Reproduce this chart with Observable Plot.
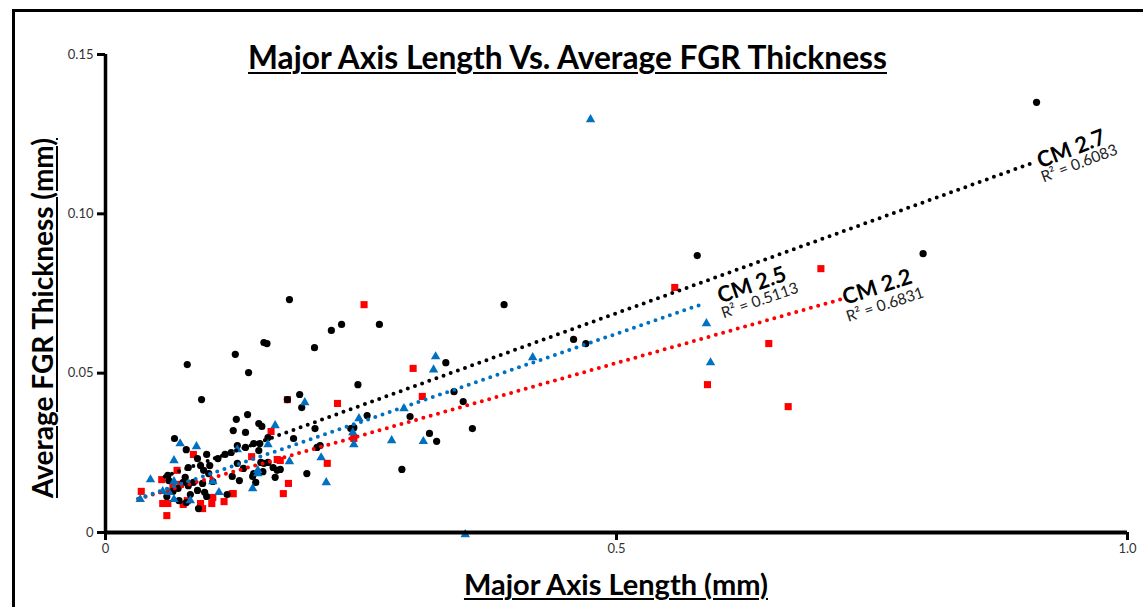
<!DOCTYPE html>
<html>
<head>
<meta charset="utf-8">
<script src="https://cdn.jsdelivr.net/npm/d3@7"></script>
<script src="https://cdn.jsdelivr.net/npm/@observablehq/plot@0.6"></script>
<style>
  html, body { margin: 0; padding: 0; background: #fff; }
  #wrap { position: relative; width: 1143px; height: 607px; overflow: hidden; background: #fff; }
  #frame { position: absolute; left: 12px; top: 9px; width: 1200px; height: 700px; border: 3px solid #000; box-sizing: border-box; }
  #chart { position: absolute; left: 0; top: 0; }
  .ttl { position: absolute; font-family: Lato, "Open Sans", sans-serif; font-weight: 700; line-height: 1; white-space: nowrap; text-decoration: underline; text-decoration-thickness: 2px; text-underline-offset: 3px; color: #000; }
</style>
</head>
<body>
<div id="wrap">
  <div id="frame"></div>
  <div id="chart"></div>
  <div class="ttl" id="title" style="left:0;width:1135px;text-align:center;top:42px;font-size:31.7px;">Major Axis Length Vs. Average FGR Thickness</div>
  <div class="ttl" id="xlabel" style="left:0;width:1232px;text-align:center;top:569px;font-size:29px;">Major Axis Length (mm)</div>
  <div class="ttl" id="ylabel" style="left:42px;top:318px;font-size:28px;transform:translate(-50%,-50%) rotate(-90deg);">Average FGR Thickness (mm)</div>
</div>
<script>
// ---- data (major axis length mm, average FGR thickness mm) ----
const cm27 = [
  [0.911,0.135],[0.800,0.0875],[0.579,0.0869],[0.390,0.0715],[0.180,0.0731],[0.458,0.0606],[0.470,0.0593],
  [0.333,0.0533],[0.341,0.0442],[0.350,0.0411],[0.359,0.0326],[0.231,0.0653],[0.268,0.0653],[0.221,0.0634],
  [0.2045,0.058],[0.247,0.0464],[0.190,0.0433],[0.178,0.0417],[0.192,0.0392],[0.256,0.0367],[0.298,0.0364],
  [0.240,0.0326],[0.243,0.0329],[0.317,0.0311],[0.324,0.0286],[0.205,0.0326],[0.184,0.0295],[0.207,0.0267],
  [0.210,0.0273],[0.171,0.0198],[0.197,0.0185],[0.290,0.0198],[0.155,0.0596],[0.158,0.0593],[0.127,0.0559],
  [0.080,0.0527],[0.140,0.0502],[0.094,0.0417],[0.139,0.037],[0.128,0.0355],[0.125,0.032],[0.150,0.0342],
  [0.153,0.0333],[0.137,0.0314],[0.159,0.0298],[0.145,0.0279],[0.151,0.0279],[0.137,0.0267],[0.150,0.0257],
  [0.129,0.0273],[0.152,0.022],[0.155,0.0217],[0.159,0.022],[0.129,0.0217],[0.135,0.0201],[0.154,0.0191],
  [0.168,0.0195],[0.164,0.0204],[0.166,0.0173],[0.124,0.0176],[0.145,0.0185],[0.144,0.0176],[0.131,0.0163],
  [0.147,0.0157],[0.0675,0.0295],[0.079,0.026],[0.099,0.0245],[0.110,0.0232],[0.117,0.0245],[0.123,0.0251],
  [0.090,0.0232],[0.093,0.021],[0.102,0.021],[0.096,0.0195],[0.081,0.0204],[0.061,0.0179],[0.062,0.0163],
  [0.078,0.0173],[0.076,0.0157],[0.086,0.0157],[0.081,0.0147],[0.090,0.0132],[0.071,0.0138],[0.095,0.0154],
  [0.101,0.0185],[0.105,0.016],[0.099,0.0113],[0.097,0.0126],[0.060,0.0113],[0.072,0.010],[0.079,0.0094],
  [0.091,0.0075],[0.119,0.0119],[0.083,0.0119],[0.066,0.0129]
];
const cm25 = [
  [0.4746,0.1296],[0.588,0.0656],[0.592,0.0533],[0.418,0.0549],[0.323,0.0552],[0.321,0.0511],[0.292,0.0389],
  [0.248,0.0358],[0.242,0.0314],[0.243,0.0276],[0.280,0.0289],[0.311,0.0286],[0.195,0.0408],[0.180,0.0223],
  [0.211,0.0235],[0.216,0.0157],[0.352,-0.0006],[0.166,0.0336],[0.159,0.0276],[0.129,0.026],[0.144,0.0138],
  [0.149,0.0185],[0.073,0.0279],[0.089,0.027],[0.067,0.0226],[0.044,0.0166],[0.067,0.016],[0.062,0.0126],
  [0.067,0.0104],[0.105,0.016],[0.111,0.0126],[0.083,0.010],[0.034,0.0104],[0.056,0.0129],[0.149,0.0195]
];
const cm22 = [
  [0.253,0.0715],[0.557,0.0769],[0.700,0.0828],[0.649,0.0593],[0.589,0.0464],[0.668,0.0395],[0.301,0.0515],
  [0.310,0.0427],[0.243,0.0295],[0.227,0.0405],[0.178,0.0417],[0.217,0.0217],[0.179,0.0154],[0.174,0.0122],
  [0.162,0.0317],[0.143,0.0238],[0.168,0.0229],[0.171,0.0226],[0.125,0.0122],[0.086,0.0245],[0.055,0.0166],
  [0.070,0.0195],[0.035,0.0129],[0.066,0.0144],[0.056,0.0091],[0.061,0.0091],[0.080,0.010],[0.060,0.0053],
  [0.093,0.0091],[0.095,0.0075],[0.105,0.011],[0.104,0.0091],[0.116,0.0097],[0.124,0.0122],[0.073,0.0151],
  [0.076,0.0088]
];
// trend lines (order: CM 2.2, CM 2.5, CM 2.7)
const trendNames = ["CM 2.2", "CM 2.5", "CM 2.7"];
const trendR2 = ["R\u00B2 = 0.6831", "R\u00B2 = 0.5113", "R\u00B2 = 0.6083"];
const trendX0 = [0.032, 0.032, 0.058];
const trendY0 = [0.0106, 0.0106, 0.0176];
const trendX1 = [0.721, 0.586, 0.908];
const trendY1 = [0.0733, 0.0719, 0.1161];
// axis ticks
const xTicks = [0, 0.5, 1.0];
const xTickLabels = ["0", "0.5", "1.0"];
const yTicks = [0, 0.05, 0.10, 0.15];
const yTickLabels = ["0", "0.05", "0.10", "0.15"];

const colors = ["#FF0000", "#0070C0", "#000000"];

const trendMark = (i) => Plot.line([[trendX0[i], trendY0[i]], [trendX1[i], trendY1[i]]], {
  x: d => d[0], y: d => d[1], stroke: colors[i], strokeWidth: 4,
  strokeDasharray: "0 7.6", strokeLinecap: "round"
});
const labelOpts = [
  {rotate: -18, dx: 3, dy: 6, rdx: 6, rdy: 23},
  {rotate: -19, dx: 16, dy: 0, rdx: 19, rdy: 15},
  {rotate: -21, dx: 7, dy: 6, rdx: 10, rdy: 20}
];
const labelMarks = [];
for (let i = 0; i < 3; i++) {
  const o = labelOpts[i];
  labelMarks.push(Plot.text([i], {
    x: j => trendX1[j], y: j => trendY1[j], text: j => trendNames[j],
    rotate: o.rotate, dx: o.dx, dy: o.dy, textAnchor: "start", lineAnchor: "bottom",
    fontSize: 22, fontWeight: "bold", fill: "#000", fontFamily: "Lato, 'Open Sans', sans-serif"
  }));
  labelMarks.push(Plot.text([i], {
    x: j => trendX1[j], y: j => trendY1[j], text: j => trendR2[j],
    rotate: o.rotate, dx: o.rdx, dy: o.rdy, textAnchor: "start", lineAnchor: "bottom",
    fontSize: 15.5, fill: "#222", fontFamily: "Lato, 'Open Sans', sans-serif"
  }));
}

const chart = Plot.plot({
  width: 1143, height: 607,
  marginLeft: 105, marginRight: 16, marginTop: 54, marginBottom: 75,
  x: {domain: [0, 1]},
  y: {domain: [0, 0.15]},
  style: {background: "transparent", fontFamily: "Lato, 'Open Sans', sans-serif"},
  marks: [
    Plot.dot(cm22, {x: d => d[0], y: d => d[1], symbol: "square", r: 4, fill: colors[0], stroke: "none"}),
    Plot.dot(cm27, {x: d => d[0], y: d => d[1], symbol: "circle", r: 3.6, fill: colors[2], stroke: "none"}),
    Plot.dot(cm25, {x: d => d[0], y: d => d[1], symbol: "triangle", r: 3.5, fill: colors[1], stroke: "none"}),
    trendMark(0), trendMark(1), trendMark(2),
    ...labelMarks,
    Plot.axisX(xTicks, {tickSize: 8, tickPadding: 3, strokeWidth: 3, fontSize: 13, fill: "#333",
      tickFormat: (d, i) => xTickLabels[i], label: null}),
    Plot.axisY(yTicks, {tickSize: 8, tickPadding: 4, strokeWidth: 3, fontSize: 13, fill: "#333",
      tickFormat: (d, i) => yTickLabels[i], label: null}),
    Plot.ruleY([0], {stroke: "#000", strokeWidth: 4}),
    Plot.ruleX([0], {stroke: "#000", strokeWidth: 3.5})
  ]
});
document.getElementById("chart").appendChild(chart);
</script>
</body>
</html>
